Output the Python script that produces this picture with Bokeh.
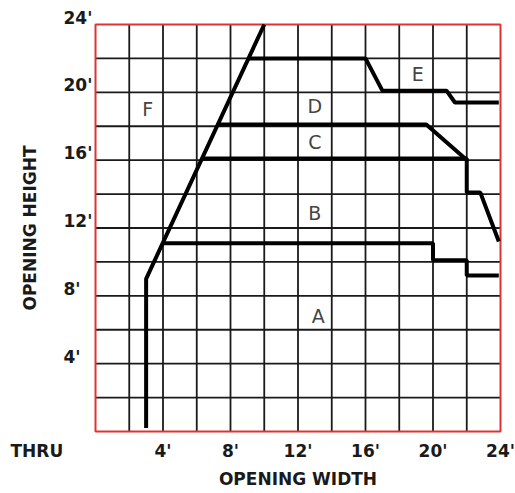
from bokeh.plotting import figure
from bokeh.models import Label, LabelSet, ColumnDataSource, Range1d
from bokeh.core.properties import value
from bokeh.embed import file_html
from bokeh.resources import INLINE

# ---- data ----
x_ticks = [4, 8, 12, 16, 20, 24]
x_tick_labels = ["4'", "8'", "12'", "16'", "20'", "24'"]
y_ticks = [4, 8, 12, 16, 20, 24]
y_tick_labels = ["4'", "8'", "12'", "16'", "20'", "24'"]
grid_ticks = [2, 4, 6, 8, 10, 12, 14, 16, 18, 20, 22]
x_min, x_max = 0, 24
y_min, y_max = 0, 24

f_x = [3, 3, 10]
f_y = [0.2, 9, 24]
ab_x = [4.0, 20, 20, 22, 22, 23.9]
ab_y = [11.1, 11.1, 10.1, 10.1, 9.2, 9.2]
bc_x = [6.3, 22, 22, 22.8, 23.9]
bc_y = [16.1, 16.1, 14.1, 14.1, 11.2]
cd_x = [7.3, 19.6, 21.9]
cd_y = [18.1, 18.1, 16.1]
de_x = [9.1, 16, 17, 20.8, 21.3, 23.9]
de_y = [22, 22, 20.1, 20.1, 19.4, 19.4]

zone_names = ["F", "D", "E", "C", "B", "A"]
zone_x = [3.1, 13.0, 19.1, 13.0, 13.0, 13.2]
zone_y = [19.0, 19.2, 21.1, 17.1, 12.9, 6.8]

# ---- layout (screen pixels) ----
W, H = 515, 493
FL, FR, FT, FB = 95, 500, 24, 431   # grid box edges on the canvas
sx = (FR - FL) / (x_max - x_min)
sy = (FB - FT) / (y_max - y_min)
xr = Range1d(x_min - FL / sx, x_min + (W - FL) / sx)
yr = Range1d(y_max - (H - FT) / sy, y_max + FT / sy)

FONT = "DejaVu Sans"
INK = "#1a1a1a"

p = figure(width=W, height=H, x_range=xr, y_range=yr,
           output_backend="svg", toolbar_location=None,
           x_axis_location=None, y_axis_location=None,
           min_border=0)
p.min_border_left = p.min_border_right = p.min_border_top = p.min_border_bottom = 0
p.outline_line_color = None
p.background_fill_color = "white"
p.border_fill_color = "white"
p.grid.visible = False

# grid lines
n = len(grid_ticks)
p.segment(x0=grid_ticks, x1=grid_ticks, y0=[y_min] * n, y1=[y_max] * n,
          line_color=INK, line_width=1.8)
p.segment(x0=[x_min] * n, x1=[x_max] * n, y0=grid_ticks, y1=grid_ticks,
          line_color=INK, line_width=1.8)

# red border
p.quad(left=[x_min], right=[x_max], bottom=[y_min], top=[y_max],
       fill_color=None, line_color="#dd3333", line_width=2)

# boundary lines
for xs, ys in [(f_x, f_y), (ab_x, ab_y), (bc_x, bc_y), (cd_x, cd_y), (de_x, de_y)]:
    p.line(xs, ys, line_color="black", line_width=4)

# zone letters
zsrc = ColumnDataSource(dict(x=zone_x, y=zone_y, t=zone_names))
p.add_layout(LabelSet(x="x", y="y", text="t", source=zsrc,
                      text_font=value(FONT), text_font_size=value("19px"),
                      text_color="#444444", text_align="center",
                      text_baseline="middle"))

bold = dict(text_font=value(FONT), text_font_style="bold",
            text_font_size=value("17px"), text_color=INK)

# x tick labels
xsrc = ColumnDataSource(dict(x=x_ticks, y=[y_min] * len(x_ticks), t=x_tick_labels))
p.add_layout(LabelSet(x="x", y="y", text="t", source=xsrc, y_offset=-19,
                      text_align="center", text_baseline="middle", **bold))

# y tick labels
ysrc = ColumnDataSource(dict(x=[x_min] * len(y_ticks), y=y_ticks, t=y_tick_labels))
p.add_layout(LabelSet(x="x", y="y", text="t", source=ysrc,
                      x_offset=-32, y_offset=7,
                      text_align="left", text_baseline="middle", **bold))

# THRU
sbold = dict(text_font=FONT, text_font_style="bold", text_font_size="17px",
             text_color=INK)
p.add_layout(Label(x=x_min, y=y_min, text="THRU", x_offset=-85, y_offset=-19,
                   text_align="left", text_baseline="middle", **sbold))

# axis titles
p.add_layout(Label(x=(x_min + x_max) / 2, y=y_min, text="OPENING WIDTH",
                   y_offset=-47, text_align="center", text_baseline="middle",
                   **sbold))
p.add_layout(Label(x=x_min, y=(y_min + y_max) / 2, text="OPENING HEIGHT",
                   x_offset=-66, angle=90, angle_units="deg",
                   text_align="center", text_baseline="middle", **sbold))

open("out.html", "w").write(file_html(p, INLINE))
